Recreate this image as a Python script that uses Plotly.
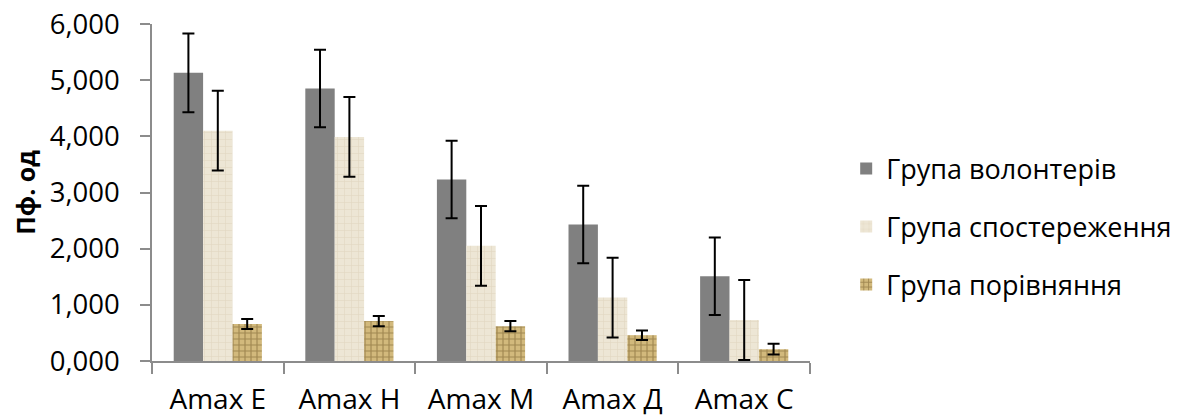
import plotly.graph_objects as go

categories = ["Amax E", "Amax H", "Amax M", "Amax Д", "Amax C"]
series_names = ["Група волонтерів", "Група спостереження", "Група порівняння"]
volunteers = [5.13, 4.85, 3.23, 2.43, 1.51]
volunteers_err = [0.70, 0.69, 0.69, 0.69, 0.69]
observation = [4.10, 3.99, 2.05, 1.13, 0.73]
observation_err = [0.71, 0.71, 0.71, 0.71, 0.71]
comparison = [0.66, 0.71, 0.62, 0.46, 0.21]
comparison_err = [0.09, 0.09, 0.09, 0.085, 0.095]
y_ticks = [0, 1, 2, 3, 4, 5, 6]

FONT = "Open Sans"

fig = go.Figure()
err_style = dict(type="data", color="#000000", thickness=2, width=6)

fig.add_trace(go.Bar(
    x=categories, y=volunteers, name=series_names[0], legendgroup="a",
    marker=dict(color="#808080", line=dict(width=0)),
    error_y=dict(array=volunteers_err, **err_style),
))
fig.add_trace(go.Bar(
    x=categories, y=observation, name=series_names[1], legendgroup="b",
    marker=dict(color="#ebe3d0", line=dict(width=0),
                pattern=dict(shape="+", fgcolor="#d6cab0", bgcolor="#ede6d5",
                             size=7, solidity=0.18, fillmode="overlay")),
    error_y=dict(array=observation_err, **err_style),
))
fig.add_trace(go.Bar(
    x=categories, y=comparison, name=series_names[2], legendgroup="c",
    marker=dict(color="#b89c62", line=dict(width=0),
                pattern=dict(shape="+", fgcolor="#6e5626", bgcolor="#d2b97c",
                             size=6, solidity=0.35, fillmode="overlay")),
    error_y=dict(array=comparison_err, **err_style),
))

fig.update_layout(
    width=1183, height=416,
    margin=dict(l=144, r=381, t=16, b=63, autoexpand=False),
    paper_bgcolor="white", plot_bgcolor="white",
    barmode="group", bargap=0.33, bargroupgap=0,
    separators=", ",
    font=dict(family=FONT, color="#000000"),
    showlegend=True,
    legend=dict(
        x=1.055, y=0.398, xanchor="left", yanchor="middle",
        font=dict(family=FONT, size=27, color="#000000"),
        tracegroupgap=20, itemwidth=30,
        bgcolor="rgba(0,0,0,0)",
    ),
    xaxis=dict(
        type="category", showline=True, linecolor="#8c8c8c", linewidth=1.5,
        ticks="outside", tickson="boundaries", ticklen=11, tickcolor="#8c8c8c",
        tickwidth=1.5, tickfont=dict(family=FONT, size=28),
        ticklabelstandoff=13, ticklabeloverflow="allow",
        showgrid=False, zeroline=False, automargin=False,
    ),
    yaxis=dict(
        range=[0, 6], tickvals=y_ticks, tickformat=".3f",
        showline=True, linecolor="#8c8c8c", linewidth=1.5,
        ticks="outside", ticklen=10, tickcolor="#8c8c8c", tickwidth=1.5,
        tickfont=dict(family=FONT, size=27.5), showgrid=False, zeroline=False,
        ticklabelstandoff=15, ticklabeloverflow="allow", automargin=False,
        title=dict(text="<b>Пф. од</b>", font=dict(family=FONT, size=25), standoff=12),
    ),
)

fig.write_html("out.html")
